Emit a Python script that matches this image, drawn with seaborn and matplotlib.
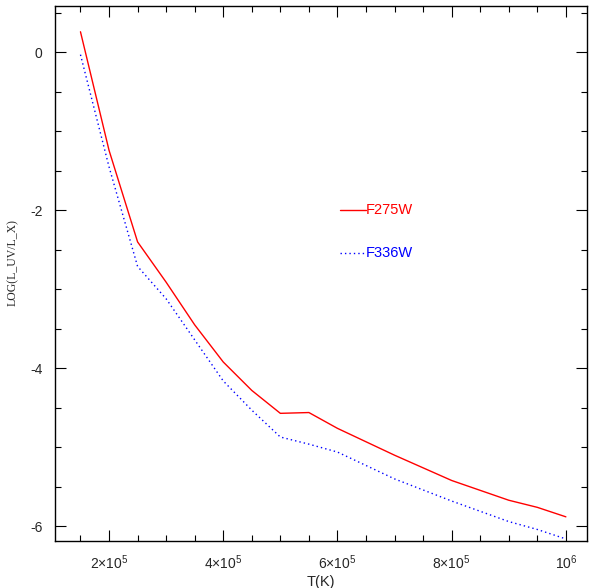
import matplotlib
matplotlib.use("Agg")
import matplotlib.pyplot as plt
import seaborn as sns
import pandas as pd
from matplotlib.ticker import FixedLocator, FixedFormatter, MultipleLocator

# Data
temperature = [1.5e5, 2.0e5, 2.5e5, 3.0e5, 3.5e5, 4.0e5, 4.5e5, 5.0e5, 5.5e5,
               6.0e5, 7.0e5, 8.0e5, 9.0e5, 9.5e5, 1.0e6]
f275w = [0.26, -1.24, -2.40, -2.91, -3.45, -3.92, -4.28, -4.57, -4.56,
         -4.76, -5.10, -5.42, -5.67, -5.76, -5.88]
f336w = [-0.03, -1.45, -2.71, -3.12, -3.64, -4.16, -4.53, -4.87, -4.96,
         -5.06, -5.40, -5.68, -5.94, -6.04, -6.16]
series_names = ["F275W", "F336W"]
series_colors = ["red", "blue"]
x_tick_values = [2e5, 4e5, 6e5, 8e5, 1e6]
x_tick_labels = [r"$2{\times}10^5$", r"$4{\times}10^5$", r"$6{\times}10^5$",
                 r"$8{\times}10^5$", r"$10^6$"]
y_tick_values = [0, -2, -4, -6]
y_tick_labels = ["0", "-2", "-4", "-6"]

df = pd.DataFrame({
    "T": temperature * 2,
    "logratio": f275w + f336w,
    "band": [series_names[0]] * len(temperature) + [series_names[1]] * len(temperature),
})

sns.set_style("white")
plt.rcParams["font.family"] = ["Liberation Sans", "DejaVu Sans"]
plt.rcParams["mathtext.fontset"] = "custom"
plt.rcParams["mathtext.rm"] = "Liberation Sans"
plt.rcParams["mathtext.it"] = "Liberation Sans"

fig = plt.figure(figsize=(5.89, 5.88), dpi=100)
ax = fig.add_axes([55 / 589, 1 - 541 / 588, (587 - 55) / 589, (541 - 6) / 588])

sns.lineplot(data=df, x="T", y="logratio", hue="band", style="band",
             palette=dict(zip(series_names, series_colors)),
             dashes={series_names[0]: "", series_names[1]: (1, 2.2)},
             linewidth=1.0, legend=False, ax=ax)

ax.set_xlim(1.054e5, 1.037e6)
ax.set_ylim(-6.186, 0.586)

ax.xaxis.set_major_locator(FixedLocator(x_tick_values))
ax.xaxis.set_major_formatter(FixedFormatter(x_tick_labels))
ax.xaxis.set_minor_locator(MultipleLocator(0.5e5))
ax.yaxis.set_major_locator(FixedLocator(y_tick_values))
ax.yaxis.set_major_formatter(FixedFormatter(y_tick_labels))
ax.yaxis.set_minor_locator(MultipleLocator(0.5))

ax.tick_params(which="both", direction="in", top=True, right=True,
               bottom=True, left=True, color="black", width=0.8)
ax.tick_params(which="major", length=8, labelsize=10, pad=9)
ax.tick_params(which="minor", length=4)
for s in ax.spines.values():
    s.set_color("black")
    s.set_linewidth(1.0)

ax.set_xlabel("T(K)", fontsize=10.5, labelpad=2)
ax.set_ylabel("LOG(L_UV/L_X)", fontsize=8.5)
ax.yaxis.label.set_fontfamily("Liberation Serif")
ax.yaxis.set_label_coords(-36 / 532, 0.52)

# In-plot legend
ax.plot([6.05e5, 6.5e5], [-2.0, -2.0], color="red", linewidth=1.0)
ax.text(6.5e5, -2.0, series_names[0], color="red", fontsize=10.5, va="center", ha="left")
ax.plot([6.05e5, 6.5e5], [-2.54, -2.54], color="blue", linewidth=1.0, linestyle=(0, (1, 2.2)))
ax.text(6.5e5, -2.54, series_names[1], color="blue", fontsize=10.5, va="center", ha="left")

fig.savefig("out.png", dpi=100)
